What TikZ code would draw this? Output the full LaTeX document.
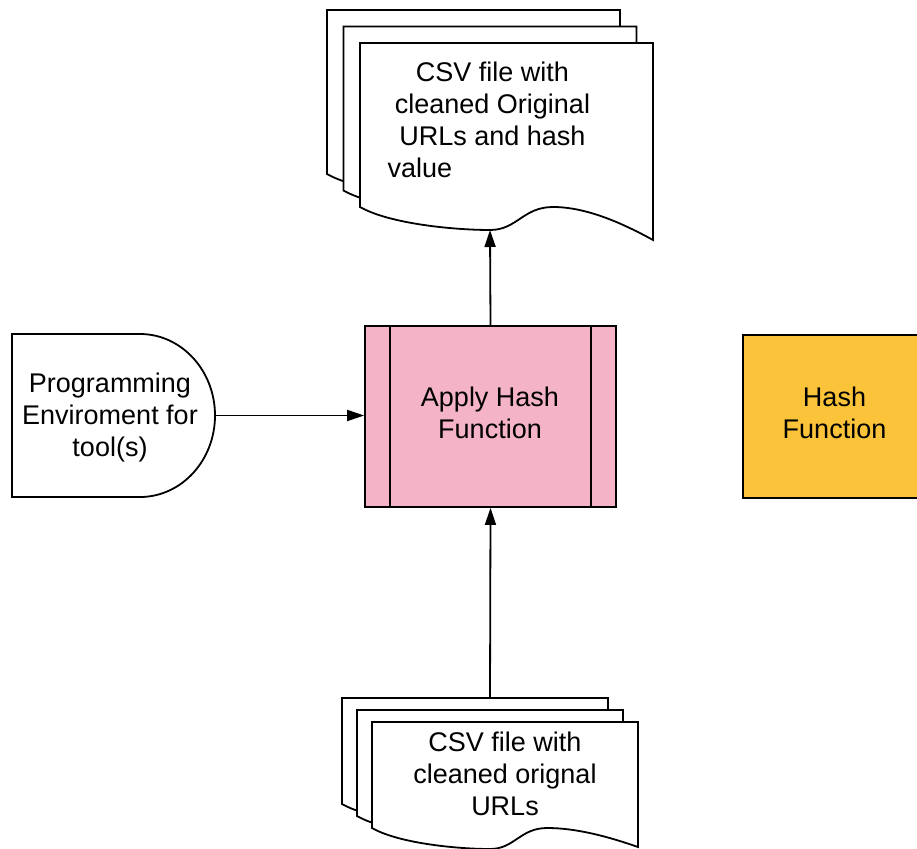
\documentclass[tikz,border=0pt]{standalone}
\usepackage{fontspec}
\setmainfont{Liberation Sans}
\usetikzlibrary{arrows.meta}
\definecolor{pinkfill}{RGB}{244,179,199}
\definecolor{yellowfill}{RGB}{251,195,58}
% one page of a multi-document:
% x, y (top left), width, left height, dip depth, right-end depth
\newcommand\docpage[6]{%
  \begin{scope}[shift={(#1,#2)}, xscale=#3/293]
    \draw[docline] (0,0) -- (293,0) -- (293,#4+#6)
      .. controls (260,#4+0.45*#6) and (225,#4) .. (193,#4)
      .. controls (163,#4) and (157,#4+#5) .. (130,#4+#5)
      .. controls (95,#4+#5) and (30,#4+0.74*#5) .. (0,#4) -- cycle;
  \end{scope}}
\begin{document}
\begin{tikzpicture}[x=1pt,y=-1pt,
  docline/.style={line width=1.8pt, fill=white, line join=miter},
  txt/.style={font=\fontsize{27}{32}\selectfont, align=center, inner sep=0pt, anchor=north},
  procbox/.style={draw, line width=1.8pt, fill=pinkfill, inner sep=0pt},
  hashbox/.style={draw, line width=1.5pt, fill=yellowfill, inner sep=0pt},
  conn/.style={line width=1.8pt, -{Triangle[length=17pt,width=11pt]}}]
\useasboundingbox (0,0) rectangle (917,848);
\clip (0,0) rectangle (917,848);

% top multi-document
\docpage{327}{10}{293}{164}{23}{33}
\docpage{343.5}{26.5}{293}{164}{23}{33}
\docpage{360}{43}{293}{164}{23}{33}
\coordinate (topdocbot) at (490,230);
\node[txt] (topdoctxt) at (492.5,62) {CSV file with\\cleaned Original\\URLs and hash\\\makebox[210pt][l]{value}};

% bottom multi-document
\docpage{342}{698}{266}{106}{21}{19}
\docpage{357}{710}{266}{106}{21}{19}
\docpage{372}{722}{266}{106}{21}{19}
\coordinate (botdoctop) at (490,698);
\node[txt] (botdoctxt) at (505,732) {CSV file with\\cleaned orignal\\URLs};

% delay shape
\draw[docline] (12,334) -- (140,334)
  .. controls (181.4,334) and (215,370.5) .. (215,415.5)
  .. controls (215,460.5) and (181.4,497) .. (140,497)
  -- (12,497) -- cycle;
\coordinate (envright) at (215,415.5);
\node[txt] (envtxt) at (110,373) {Programming\\Enviroment for\\tool(s)};

% predefined process
\node[procbox, minimum width=251pt, minimum height=181pt] (apply) at (490.5,416.5) {};
\draw[line width=1.8pt] ([xshift=26pt]apply.north west) -- ([xshift=26pt]apply.south west);
\draw[line width=1.8pt] ([xshift=-26pt]apply.north east) -- ([xshift=-26pt]apply.south east);
\node[txt] (applytxt) at (490,387) {Apply Hash\\Function};

% hash function box
\node[hashbox, minimum width=190pt, minimum height=163pt, anchor=north west] (hash) at (742,334) {};
\node[txt] (hashtxt) at (834.5,387) {Hash\\Function};

% connectors
\draw[conn] (apply.north) -- (topdocbot);
\draw[conn] (botdoctop) -- (apply.south);
\draw[conn] (envright) -- (apply.west |- envright);
\end{tikzpicture}
\end{document}
